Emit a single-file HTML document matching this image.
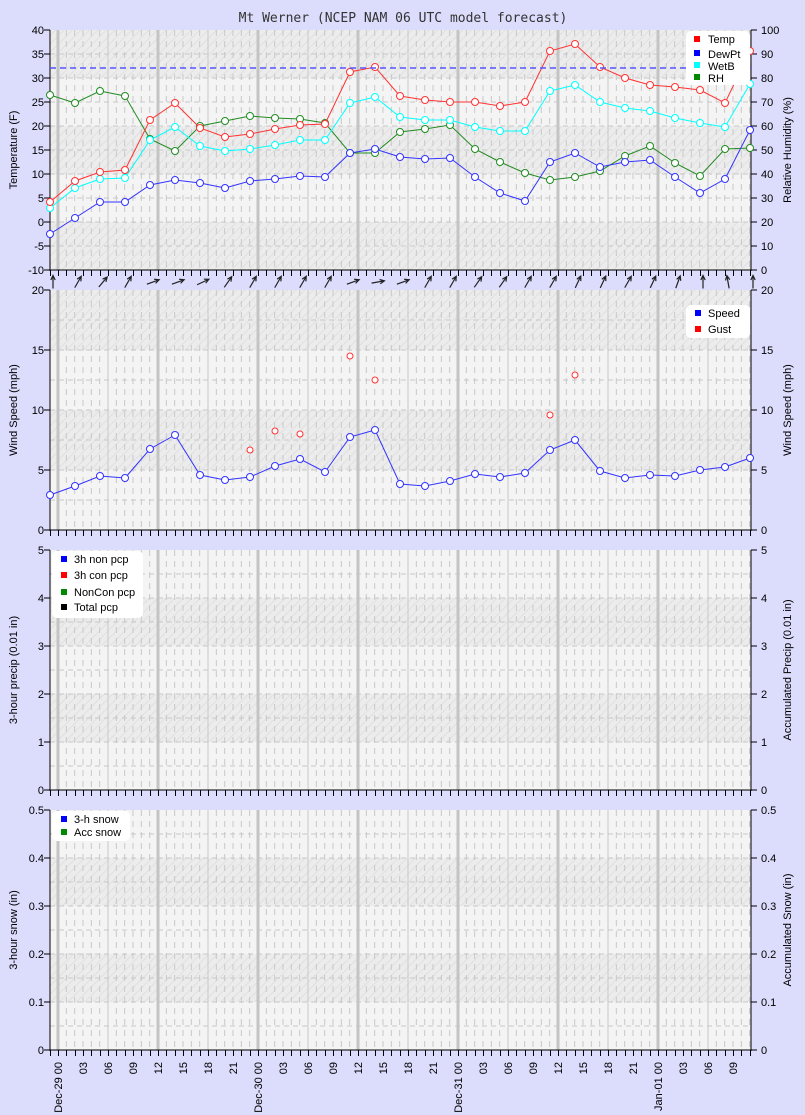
<!DOCTYPE html>
<html><head><meta charset="utf-8"><style>
body{margin:0;background:#dcdcfc;}
svg{display:block;font-family:"Liberation Sans",sans-serif;font-size:11px;}
</style></head><body>
<svg id="s" width="805" height="1115" xmlns="http://www.w3.org/2000/svg">
<defs>
<pattern id="h" width="6" height="6" patternUnits="userSpaceOnUse" patternTransform="rotate(45)"><rect width="6" height="6" fill="#ececec"/><line x1="0" y1="0" x2="0" y2="6" stroke="#e0e0e0" stroke-width="2"/></pattern>
</defs>
<rect width="805" height="1115" fill="#dcdcfc"/>
<g id="bg"></g>
<g id="grid"></g>
<g id="data"></g>
<text x="403" y="22" text-anchor="middle" font-family="DejaVu Sans Mono, Liberation Mono, monospace" font-size="13" fill="#333">Mt Werner (NCEP NAM 06 UTC model forecast)</text>
<g id="ax" fill="#000">
<text x="44" y="34" text-anchor="end">40</text><text x="44" y="58" text-anchor="end">35</text><text x="44" y="82" text-anchor="end">30</text><text x="44" y="106" text-anchor="end">25</text><text x="44" y="130" text-anchor="end">20</text><text x="44" y="154" text-anchor="end">15</text><text x="44" y="178" text-anchor="end">10</text><text x="44" y="202" text-anchor="end">5</text><text x="44" y="226" text-anchor="end">0</text><text x="44" y="250" text-anchor="end">-5</text><text x="44" y="274" text-anchor="end">-10</text>
<text x="761" y="34">100</text><text x="761" y="58">90</text><text x="761" y="82">80</text><text x="761" y="106">70</text><text x="761" y="130">60</text><text x="761" y="154">50</text><text x="761" y="178">40</text><text x="761" y="202">30</text><text x="761" y="226">20</text><text x="761" y="250">10</text><text x="761" y="274">0</text>
<text transform="translate(17,150) rotate(-90)" text-anchor="middle">Temperature (F)</text>
<text transform="translate(791,150) rotate(-90)" text-anchor="middle">Relative Humidity (%)</text>
<text x="44" y="294" text-anchor="end">20</text><text x="44" y="354" text-anchor="end">15</text><text x="44" y="414" text-anchor="end">10</text><text x="44" y="474" text-anchor="end">5</text><text x="44" y="534" text-anchor="end">0</text>
<text x="761" y="294">20</text><text x="761" y="354">15</text><text x="761" y="414">10</text><text x="761" y="474">5</text><text x="761" y="534">0</text>
<text transform="translate(17,410) rotate(-90)" text-anchor="middle">Wind Speed (mph)</text>
<text transform="translate(791,410) rotate(-90)" text-anchor="middle">Wind Speed (mph)</text>
<text x="44" y="554" text-anchor="end">5</text><text x="44" y="602" text-anchor="end">4</text><text x="44" y="650" text-anchor="end">3</text><text x="44" y="698" text-anchor="end">2</text><text x="44" y="746" text-anchor="end">1</text><text x="44" y="794" text-anchor="end">0</text>
<text x="761" y="554">5</text><text x="761" y="602">4</text><text x="761" y="650">3</text><text x="761" y="698">2</text><text x="761" y="746">1</text><text x="761" y="794">0</text>
<text transform="translate(17,670) rotate(-90)" text-anchor="middle">3-hour precip (0.01 in)</text>
<text transform="translate(791,670) rotate(-90)" text-anchor="middle">Accumulated Precip (0.01 in)</text>
<text x="44" y="814" text-anchor="end">0.5</text><text x="44" y="862" text-anchor="end">0.4</text><text x="44" y="910" text-anchor="end">0.3</text><text x="44" y="958" text-anchor="end">0.2</text><text x="44" y="1006" text-anchor="end">0.1</text><text x="44" y="1054" text-anchor="end">0</text>
<text x="761" y="814">0.5</text><text x="761" y="862">0.4</text><text x="761" y="910">0.3</text><text x="761" y="958">0.2</text><text x="761" y="1006">0.1</text><text x="761" y="1054">0</text>
<text transform="translate(17,930) rotate(-90)" text-anchor="middle">3-hour snow (in)</text>
<text transform="translate(791,930) rotate(-90)" text-anchor="middle">Accumulated Snow (in)</text>
<g id="xl">
<text transform="translate(62,1062) rotate(-90)" text-anchor="end">Dec-29 00</text>
<text transform="translate(87,1062) rotate(-90)" text-anchor="end">03</text>
<text transform="translate(112,1062) rotate(-90)" text-anchor="end">06</text>
<text transform="translate(137,1062) rotate(-90)" text-anchor="end">09</text>
<text transform="translate(162,1062) rotate(-90)" text-anchor="end">12</text>
<text transform="translate(187,1062) rotate(-90)" text-anchor="end">15</text>
<text transform="translate(212,1062) rotate(-90)" text-anchor="end">18</text>
<text transform="translate(237,1062) rotate(-90)" text-anchor="end">21</text>
<text transform="translate(262,1062) rotate(-90)" text-anchor="end">Dec-30 00</text>
<text transform="translate(287,1062) rotate(-90)" text-anchor="end">03</text>
<text transform="translate(312,1062) rotate(-90)" text-anchor="end">06</text>
<text transform="translate(337,1062) rotate(-90)" text-anchor="end">09</text>
<text transform="translate(362,1062) rotate(-90)" text-anchor="end">12</text>
<text transform="translate(387,1062) rotate(-90)" text-anchor="end">15</text>
<text transform="translate(412,1062) rotate(-90)" text-anchor="end">18</text>
<text transform="translate(437,1062) rotate(-90)" text-anchor="end">21</text>
<text transform="translate(462,1062) rotate(-90)" text-anchor="end">Dec-31 00</text>
<text transform="translate(487,1062) rotate(-90)" text-anchor="end">03</text>
<text transform="translate(512,1062) rotate(-90)" text-anchor="end">06</text>
<text transform="translate(537,1062) rotate(-90)" text-anchor="end">09</text>
<text transform="translate(562,1062) rotate(-90)" text-anchor="end">12</text>
<text transform="translate(587,1062) rotate(-90)" text-anchor="end">15</text>
<text transform="translate(612,1062) rotate(-90)" text-anchor="end">18</text>
<text transform="translate(637,1062) rotate(-90)" text-anchor="end">21</text>
<text transform="translate(662,1062) rotate(-90)" text-anchor="end">Jan-01 00</text>
<text transform="translate(687,1062) rotate(-90)" text-anchor="end">03</text>
<text transform="translate(712,1062) rotate(-90)" text-anchor="end">06</text>
<text transform="translate(737,1062) rotate(-90)" text-anchor="end">09</text>
</g>
</g>
<g id="leg">
<rect x="686" y="31" width="64" height="54" rx="5" fill="#fff"/>
<rect x="694" y="36" width="6" height="6" fill="#f00"/><text x="708" y="43">Temp</text>
<rect x="694" y="50" width="6" height="6" fill="#00f"/><text x="708" y="58">DewPt</text>
<rect x="694" y="62" width="6" height="6" fill="#0ff"/><text x="708" y="70">WetB</text>
<rect x="694" y="74" width="6" height="6" fill="#080"/><text x="708" y="82">RH</text>
<rect x="686" y="305" width="64" height="33" rx="5" fill="#fff"/>
<rect x="695" y="310" width="6" height="6" fill="#00f"/><text x="708" y="317">Speed</text>
<rect x="695" y="326" width="6" height="6" fill="#f00"/><text x="708" y="333">Gust</text>
<rect x="52" y="551" width="91" height="67" rx="5" fill="#fff"/>
<rect x="61" y="556" width="6" height="6" fill="#00f"/><text x="74" y="563">3h non pcp</text>
<rect x="61" y="572" width="6" height="6" fill="#f00"/><text x="74" y="579">3h con pcp</text>
<rect x="61" y="589" width="6" height="6" fill="#080"/><text x="74" y="596">NonCon pcp</text>
<rect x="61" y="604" width="6" height="6" fill="#000"/><text x="74" y="611">Total pcp</text>
<rect x="52" y="811" width="78" height="30" rx="5" fill="#fff"/>
<rect x="61" y="816" width="6" height="6" fill="#00f"/><text x="74" y="823">3-h snow</text>
<rect x="61" y="829" width="6" height="6" fill="#080"/><text x="74" y="836">Acc snow</text>
</g>
</svg>
<script>
const NS="http://www.w3.org/2000/svg";
function el(p,t,a){const e=document.createElementNS(NS,t);for(const k in a)e.setAttribute(k,a[k]);document.getElementById(p).appendChild(e);return e;}
const X0=50,X1=751,xh=h=>58+h*25/3;
const panels=[[30,270,48,24],[290,530,60,60],[550,790,48,48],[810,1050,48,48]];
panels.forEach(([t,b,band,step],pi)=>{
  el('bg','rect',{x:X0,y:t,width:X1-X0,height:b-t,fill:'#f4f4f4'});
  let n=Math.round((b-t)/band);
  for(let i=0;i<n;i++){
    let dark = pi<2 ? (i%2==0) : (i%2==1);
    if(dark) el('bg','rect',{x:X0,y:t+i*band,width:X1-X0,height:band,fill:'url(#h)'});
  }
  for(let y=t+band/2;y<b;y+=band/2) el('grid','line',{x1:X0,x2:X1,y1:y,y2:y,stroke:'#c8c8c8','stroke-dasharray':'5,4'});
  for(let h=0;h<=83;h++){
    const x=xh(h);if(x>X1)break;
    if(h%12==0) el('grid','line',{x1:x,x2:x,y1:t,y2:b,stroke:'#c4c4c4','stroke-width':3});
    else if(h%6==0) el('grid','line',{x1:x,x2:x,y1:t,y2:b,stroke:'#c8c8c8','stroke-width':1});
    else el('grid','line',{x1:x,x2:x,y1:t,y2:b,stroke:'#c8c8c8','stroke-dasharray':'6,5'});
  }
  el('grid','line',{x1:X0,x2:X0,y1:t,y2:b+1,stroke:'#000'});
  el('grid','line',{x1:X1,x2:X1,y1:t,y2:b+1,stroke:'#000'});
  el('grid','line',{x1:X0,x2:X1,y1:b,y2:b,stroke:'#000'});
  for(let h=-1;h<=83;h++){const x=Math.round(xh(h))+.5;if(x<X0||x>X1+1)continue;el('grid','line',{x1:x,x2:x,y1:b,y2:b+6,stroke:'#000'});}
  for(let y=t;y<=b;y+=step){el('grid','line',{x1:44,x2:50,y1:y,y2:y,stroke:'#000'});el('grid','line',{x1:751,x2:757,y1:y,y2:y,stroke:'#000'});}
});
const xs=[...Array(29)].map((_,i)=>50+25*i);
function series(ys,col){
  el('data','polyline',{points:xs.map((x,i)=>x+','+ys[i]).join(' '),fill:'none',stroke:col,'stroke-width':1});
  xs.forEach((x,i)=>el('data','circle',{cx:x,cy:ys[i],r:3.5,fill:'#fff',stroke:col,'stroke-width':1}));
}
series([95,103,91,96,139,151,126,121,116,118,119,123,153,153,132,129,125,149,162,173,180,177,171,156,146,163,176,149,148],'#228b22');
series([208,188,179,178,140,127,146,151,149,145,140,140,103,97,117,120,120,127,131,131,91,85,102,108,111,118,123,127,84],'#0ff');
series([234,218,202,202,185,180,183,188,181,179,176,177,153,149,157,159,158,177,193,201,162,153,167,162,160,177,193,179,130],'#33f');
series([202,181,172,170,120,103,128,137,134,129,125,124,72,67,96,100,102,102,106,102,51,44,67,78,85,87,90,103,51],'#f33');
el('data','line',{x1:50,x2:751,y1:68,y2:68,stroke:'#55f','stroke-width':1.5,'stroke-dasharray':'6,4'});
series([495,486,476,478,449,435,475,480,477,466,459,472,437,430,484,486,481,474,477,473,450,440,471,478,475,476,470,467,458],'#33f');
[[250,450],[275,431],[300,434],[350,356],[375,380],[550,415],[575,375]].forEach(([x,y])=>el('data','circle',{cx:x,cy:y,r:3,fill:'#fff',stroke:'#f33'}));
const dirs=[0,30,40,30,70,70,65,35,30,30,30,30,70,80,70,30,30,35,35,30,30,25,25,30,25,20,0,-10,0];
xs.forEach((x,i)=>{
  const a=dirs[i]*Math.PI/180,L=13,cx=x+3,cy=282;
  const dx=Math.sin(a)*L/2,dy=-Math.cos(a)*L/2;
  const x2=cx+dx,y2=cy+dy;
  el('data','path',{d:`M${cx-dx},${cy-dy}L${x2},${y2}M${x2-5*Math.sin(a-0.45)},${y2+5*Math.cos(a-0.45)}L${x2},${y2}L${x2-5*Math.sin(a+0.45)},${y2+5*Math.cos(a+0.45)}`,stroke:'#222','stroke-width':1.2,fill:'none'});
});
</script>
</body></html>
